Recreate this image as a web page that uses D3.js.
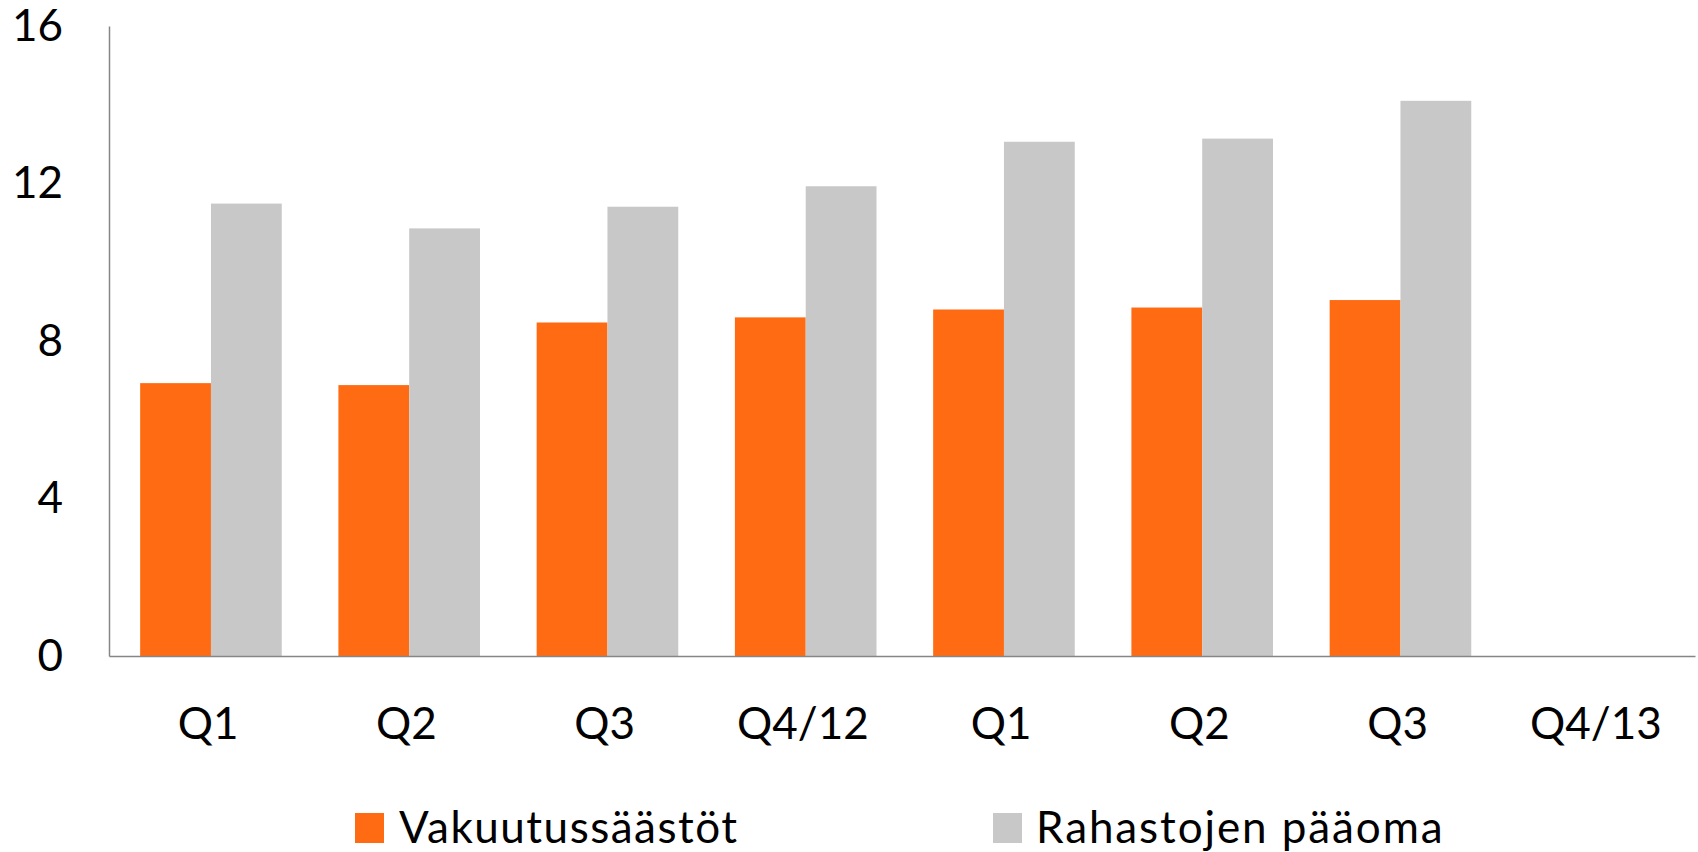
<!DOCTYPE html>
<html>
<head>
<meta charset="utf-8">
<script src="https://cdn.jsdelivr.net/npm/d3@7"></script>
<style>
  body { margin: 0; background: #fff; }
  text { font-family: Lato, "Open Sans", sans-serif; fill: #000; }
</style>
</head>
<body>
<div id="chart"></div>
<script>
var quarters = ["Q1", "Q2", "Q3", "Q4/12", "Q1 ", "Q2 ", "Q3 ", "Q4/13"];
var seriesNames = ["Vakuutussäästöt", "Rahastojen pääoma"];
var vakuutus = [6.93, 6.88, 8.47, 8.60, 8.80, 8.85, 9.04, null];
var rahastot = [11.49, 10.86, 11.41, 11.93, 13.06, 13.14, 14.10, null];
var yTicks = [0, 4, 8, 12, 16];
var colors = ["#FF6B13", "#C8C8C8"];

var width = 1698, height = 852;
var margin = { top: 26, right: 3, bottom: 196, left: 109 };
var innerW = width - margin.left - margin.right;
var innerH = height - margin.top - margin.bottom;

var svg = d3.select("#chart").append("svg")
    .attr("width", width)
    .attr("height", height)
    .style("overflow", "visible")

var g = svg.append("g")
    .attr("transform", "translate(" + margin.left + "," + margin.top + ")")

var x0 = d3.scaleBand()
    .domain(quarters)
    .range([0, innerW])

var x1 = d3.scaleBand()
    .domain(seriesNames)
    .range([0, x0.bandwidth()])
    .paddingOuter(0.4)
    .align(0.55)

var y = d3.scaleLinear()
    .domain([0, 16])
    .range([innerH, 0])

//bars
var rows = quarters.map(function (q, i) {
    return { q: q, vals: [vakuutus[i], rahastot[i]] }
})

var groups = g.selectAll(".grp")
    .data(rows)
    .enter().append("g")
    .attr("class", "grp")
    .attr("transform", function (d) { return "translate(" + x0(d.q) + ",0)" })

groups.selectAll("rect")
    .data(function (d) {
        return d.vals.map(function (v, j) { return { name: seriesNames[j], v: v, j: j } })
            .filter(function (e) { return e.v != null })
    })
    .enter().append("rect")
    .attr("x", function (d) { return x1(d.name) })
    .attr("width", x1.bandwidth())
    .attr("y", function (d) { return y(d.v) })
    .attr("height", function (d) { return innerH - y(d.v) })
    .attr("fill", function (d) { return colors[d.j] })

//y axis
var yAxis = g.append("g")
    .call(d3.axisLeft(y).tickValues(yTicks).tickSize(0).tickSizeOuter(0).tickPadding(46))
yAxis.select(".domain").attr("stroke", "#868686").attr("stroke-width", 1.5)
yAxis.selectAll("text").style("font-size", "44px").style("font-family", "Lato")

//x axis
var xAxis = g.append("g")
    .attr("transform", "translate(0," + innerH + ")")
    .call(d3.axisBottom(x0).tickSize(0).tickSizeOuter(0).tickPadding(52))
xAxis.select(".domain").attr("stroke", "#868686").attr("stroke-width", 1.5)
xAxis.selectAll("text")
    .style("font-size", "44px").style("font-family", "Lato")
    .text(function (d) { return d.trim() })

//legend
var legendX = [355, 993];
var legend = svg.selectAll(".leg")
    .data(seriesNames)
    .enter().append("g")
    .attr("class", "leg")
    .attr("transform", function (d, i) { return "translate(" + legendX[i] + ",813)" })

legend.append("rect")
    .attr("width", 29)
    .attr("height", 30)
    .attr("fill", function (d, i) { return colors[i] })

legend.append("text")
    .attr("x", function (d, i) { return i == 0 ? 44 : 43 })
    .attr("y", 30)
    .style("font-size", "44px")
    .style("letter-spacing", function (d, i) { return i == 0 ? "1.5px" : "1.9px" })
    .text(function (d) { return d })
</script>
</body>
</html>
